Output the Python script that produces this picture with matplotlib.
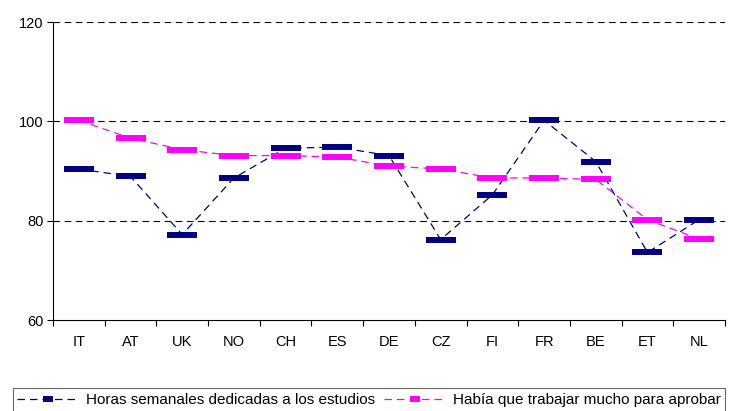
import numpy as np
import matplotlib.pyplot as plt

plt.rcParams['font.family'] = ['Liberation Sans', 'DejaVu Sans']

countries = ['IT', 'AT', 'UK', 'NO', 'CH', 'ES', 'DE', 'CZ', 'FI', 'FR', 'BE', 'ET', 'NL']
horas = [90.4, 88.9, 77.2, 88.6, 94.6, 94.8, 93.1, 76.2, 85.2, 100.2, 91.9, 73.6, 80.2]
trabajar = [100.2, 96.6, 94.3, 93.1, 93.1, 92.8, 91.0, 90.4, 88.6, 88.6, 88.3, 80.2, 76.3]
labels = ['Horas semanales dedicadas a los estudios', 'Había que trabajar mucho para aprobar']

fig = plt.figure(figsize=(7.38, 4.11), dpi=100)
ax = fig.add_axes([53/738, 1 - 320/411, 672/738, 298/411])

x = np.arange(len(countries))
ax.plot(x, horas, color='#000080', lw=0.9, ls=(0, (6, 4)), marker='_', ms=22, mew=4.3,
        mec='#000080', label=labels[0], zorder=3)
ax.plot(x, trabajar, color='#ff00ff', lw=0.9, ls=(0, (6, 4)), marker='_', ms=22, mew=4.3,
        mec='#ff00ff', label=labels[1], zorder=3)

ax.set_xlim(-0.5, len(countries) - 0.5)
ax.set_ylim(60, 120)
ax.set_yticks([60, 80, 100, 120])
ax.set_xticks(x)
ax.set_xticklabels(countries)
ax.set_xticks(np.arange(-0.5, len(countries)), minor=True)
ax.tick_params(axis='x', which='major', length=0, pad=11, labelsize=10.5)
ax.tick_params(axis='x', which='minor', direction='out', length=4, width=0.8)
ax.tick_params(axis='y', direction='out', length=4, width=0.8, labelsize=10.5, pad=3)
for v in [80, 100, 120]:
    ax.axhline(v, color='black', lw=0.8, ls=(0, (6, 4)), zorder=1)
for s in ['top', 'right']:
    ax.spines[s].set_visible(False)
ax.spines['left'].set_linewidth(0.8)
ax.spines['bottom'].set_linewidth(0.8)

leg = fig.legend(loc='lower left', bbox_to_anchor=(5/738, -0.02), ncol=2, frameon=True,
                 fancybox=False, edgecolor='#404040', prop={'size': 11},
                 handlelength=4, columnspacing=0.6, handletextpad=0.5, borderpad=0.3,
                 markerscale=0.35)
leg.get_frame().set_linewidth(0.8)

fig.savefig('out.png', dpi=100)
